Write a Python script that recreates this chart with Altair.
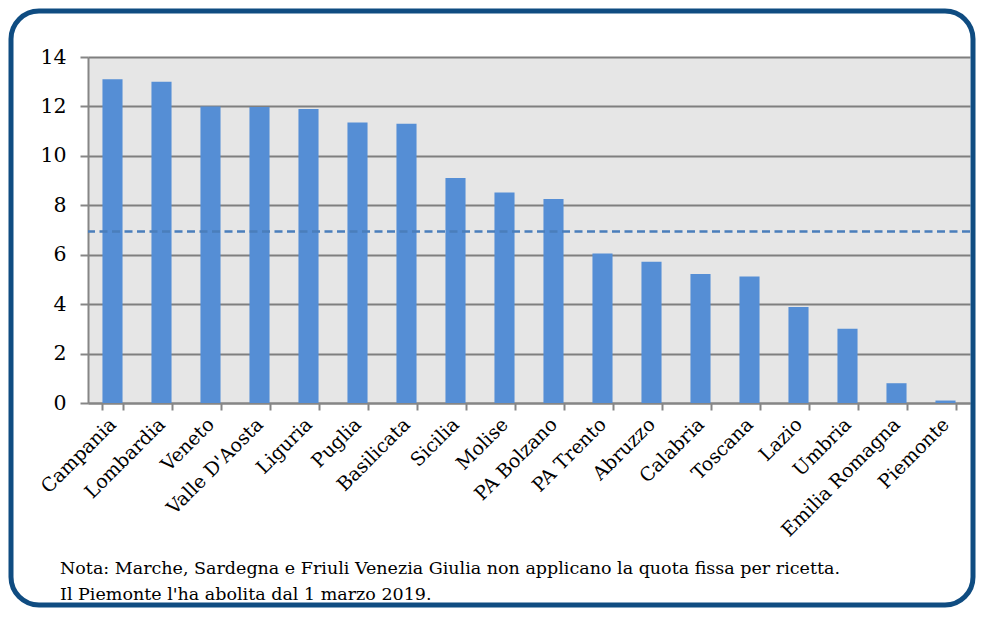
import altair as alt
import pandas as pd

regions = ["Campania", "Lombardia", "Veneto", "Valle D'Aosta", "Liguria", "Puglia",
           "Basilicata", "Sicilia", "Molise", "PA Bolzano", "PA Trento", "Abruzzo",
           "Calabria", "Toscana", "Lazio", "Umbria", "Emilia Romagna", "Piemonte"]
values = [13.1, 13.0, 12.0, 11.98, 11.9, 11.35, 11.3, 9.1, 8.52, 8.25, 6.05, 5.72,
          5.22, 5.12, 3.88, 3.0, 0.8, 0.1]
average = [6.94]
y_ticks = [0, 2, 4, 6, 8, 10, 12, 14]
note_lines = ["Nota: Marche, Sardegna e Friuli Venezia Giulia non applicano la quota fissa per ricetta.",
              "Il Piemonte l'ha abolita dal 1 marzo 2019."]

df = pd.DataFrame({"region": regions, "value": values})
avg_df = pd.DataFrame({"avg": average})
frame_df = pd.DataFrame({"k": [0]})

FONT = "DejaVu Serif"
GRAY = "#868686"

frame = alt.Chart(frame_df).mark_rect(
    fillOpacity=0, stroke="#0f4c81", strokeWidth=5, cornerRadius=28
).encode(
    x=alt.value(-77), x2=alt.value(885), y=alt.value(-46), y2=alt.value(548)
)

bars = alt.Chart(df).mark_bar(color="#558ed5").encode(
    x=alt.X("region:N", sort=regions,
            scale=alt.Scale(paddingInner=0.59, paddingOuter=0.295),
            axis=alt.Axis(title=None, labelAngle=-45, labelAlign="right",
                          labelBaseline="middle", labelFont=FONT, labelFontSize=19,
                          labelColor="black", labelPadding=11, tickBand="extent",
                          tickSize=7, tickColor=GRAY, tickWidth=2,
                          domainColor=GRAY, domainWidth=2, grid=False)),
    y=alt.Y("value:Q", scale=alt.Scale(domain=[0, 14]),
            axis=alt.Axis(title=None, values=y_ticks, labelFont=FONT, labelFontSize=20.5,
                          labelColor="black", labelPadding=14, tickSize=8,
                          tickColor=GRAY, tickWidth=2, domainColor=GRAY, domainWidth=2,
                          grid=True, gridColor="#7f7f7f", gridWidth=2))
)

rule = alt.Chart(avg_df).mark_rule(
    color="#4a7ebb", strokeDash=[8, 4.5], strokeWidth=2.5
).encode(y="avg:Q")

note1 = alt.Chart(frame_df).mark_text(
    text=note_lines[0], font=FONT, fontSize=17.5, color="black", align="left", baseline="middle"
).encode(x=alt.value(-28), y=alt.value(512))
note2 = alt.Chart(frame_df).mark_text(
    text=note_lines[1], font=FONT, fontSize=17.5, color="black", align="left", baseline="middle"
).encode(x=alt.value(-28), y=alt.value(538))

chart = alt.layer(frame, bars, rule, note1, note2).properties(
    width=882, height=346,
    padding={"left": 80, "top": 49, "right": 8, "bottom": 205},
    autosize=alt.AutoSizeParams(type="none"),
    background="white",
).configure_view(fill="#e6e6e6", stroke=None)

chart.save("out.html", embed_options={"renderer": "svg", "actions": False})
